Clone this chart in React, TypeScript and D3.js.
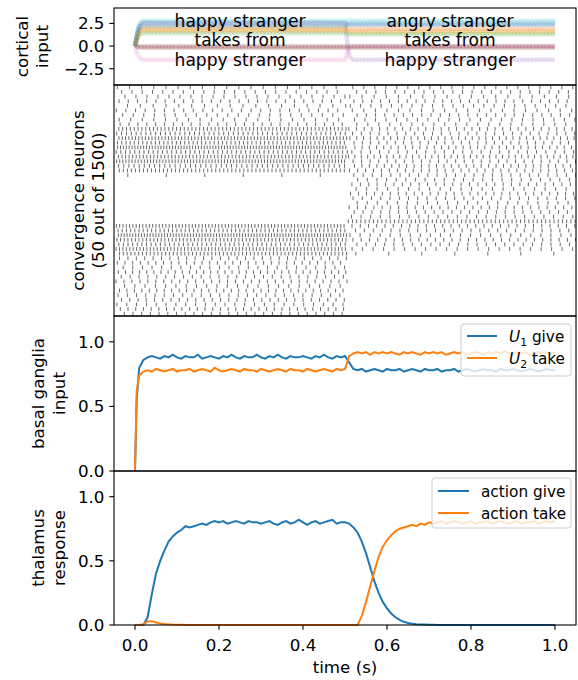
import React from "react";
import * as d3 from "d3";

// ---------- data ----------
const timeTicks = [0, 0.2, 0.4, 0.6, 0.8, 1.0];
const corticalTicks = [-2.5, 0, 2.5];
const unitTicks = [0, 0.5, 1.0];

const tab10 = ["#1f77b4", "#ff7f0e", "#2ca02c", "#d62728", "#9467bd", "#8c564b", "#e377c2", "#7f7f7f", "#bcbd22", "#17becf"];

// cortical input dims: level during first stimulus, level during second stimulus
const cortFirst = [2.5, 2.0, 1.4, -0.1, 2.6, -0.2, -1.5, 0.0, 1.8, 2.8, 2.2, 1.7];
const cortSecond = [2.3, 1.9, 1.3, -0.1, -1.5, -0.2, 0.0, 0.0, 1.5, 2.8, 2.5, 1.7];
const rampTimes = [0, 0.006, 0.012, 0.02];
const rampFrac = [0, 0.6, 0.9, 1];
const switchTime = 0.5;

const stimTop = ["happy stranger", "angry stranger"];
const stimMid = ["takes from", "takes from"];
const stimBottom = ["happy stranger", "happy stranger"];
const stimCenters = [0.25, 0.75];

// convergence neurons: firing rate (Hz) in each half, and spike phase
const rateFirst = [38, 45, 42, 50, 36, 48, 44, 40, 52, 120, 95, 140, 110, 160, 100, 130, 150, 90, 115, 12, 0, 0, 0, 0, 0, 0, 0, 0, 0, 0, 140, 110, 160, 125, 100, 135, 120, 55, 60, 48, 65, 52, 58, 45, 62, 50, 56, 47, 60, 53];
const rateSecond = [42, 48, 38, 52, 45, 40, 50, 44, 42, 60, 52, 68, 56, 64, 50, 72, 54, 62, 58, 50, 48, 55, 44, 58, 50, 46, 56, 52, 48, 110, 56, 52, 46, 56, 50, 44, 14, 0, 0, 0, 0, 0, 0, 0, 0, 0, 0, 0, 0, 0];
const spikePhase = [0.12, 0.57, 0.83, 0.34, 0.91, 0.05, 0.66, 0.29, 0.48, 0.77, 0.18, 0.95, 0.41, 0.62, 0.09, 0.73, 0.26, 0.54, 0.87, 0.31, 0.68, 0.14, 0.45, 0.99, 0.22, 0.59, 0.81, 0.37, 0.03, 0.71, 0.16, 0.52, 0.88, 0.27, 0.64, 0.07, 0.93, 0.44, 0.19, 0.76, 0.35, 0.61, 0.02, 0.85, 0.49, 0.24, 0.69, 0.11, 0.58, 0.96];

// basal ganglia input
const bgTimes = [0, 0.004, ...d3.range(1, 101).map((i) => i / 100)];
const bgGive = [0, 0.55,
  0.80, 0.86, 0.88, 0.89, 0.88, 0.87, 0.89, 0.88, 0.90, 0.88,
  0.87, 0.89, 0.88, 0.88, 0.90, 0.87, 0.88, 0.89, 0.88, 0.87,
  0.89, 0.88, 0.90, 0.88, 0.87, 0.89, 0.88, 0.88, 0.90, 0.88,
  0.87, 0.89, 0.88, 0.90, 0.88, 0.87, 0.89, 0.88, 0.88, 0.89,
  0.88, 0.87, 0.89, 0.88, 0.90, 0.88, 0.87, 0.89, 0.88, 0.89,
  0.84, 0.79, 0.78, 0.79, 0.77, 0.78, 0.79, 0.78, 0.77, 0.79,
  0.78, 0.78, 0.79, 0.77, 0.78, 0.79, 0.78, 0.77, 0.79, 0.78,
  0.78, 0.79, 0.77, 0.78, 0.78, 0.79, 0.77, 0.78, 0.79, 0.78,
  0.77, 0.78, 0.79, 0.78, 0.78, 0.77, 0.79, 0.78, 0.78, 0.79,
  0.78, 0.77, 0.78, 0.79, 0.78, 0.77, 0.78, 0.79, 0.78, 0.78];
const bgTake = [0, 0.62,
  0.74, 0.77, 0.78, 0.77, 0.79, 0.78, 0.77, 0.78, 0.79, 0.77,
  0.78, 0.78, 0.79, 0.77, 0.78, 0.79, 0.78, 0.77, 0.80, 0.78,
  0.77, 0.78, 0.79, 0.78, 0.77, 0.79, 0.78, 0.78, 0.77, 0.79,
  0.78, 0.77, 0.78, 0.79, 0.78, 0.77, 0.79, 0.78, 0.78, 0.77,
  0.79, 0.78, 0.77, 0.78, 0.79, 0.78, 0.77, 0.79, 0.78, 0.79,
  0.89, 0.91, 0.92, 0.91, 0.92, 0.90, 0.92, 0.91, 0.92, 0.91,
  0.92, 0.91, 0.90, 0.92, 0.91, 0.92, 0.91, 0.90, 0.92, 0.91,
  0.92, 0.91, 0.92, 0.90, 0.91, 0.92, 0.91, 0.92, 0.90, 0.91,
  0.92, 0.91, 0.90, 0.92, 0.91, 0.92, 0.91, 0.93, 0.91, 0.90,
  0.92, 0.91, 0.92, 0.90, 0.91, 0.92, 0.91, 0.92, 0.91, 0.92];

// thalamus response
const thTimes = d3.range(0, 101).map((i) => i / 100);
const thGive = [
  0, 0, 0, 0.06, 0.24, 0.40, 0.50, 0.58, 0.65, 0.69,
  0.72, 0.74, 0.77, 0.76, 0.77, 0.78, 0.79, 0.78, 0.80, 0.81,
  0.80, 0.81, 0.79, 0.80, 0.81, 0.80, 0.79, 0.81, 0.80, 0.80,
  0.79, 0.80, 0.81, 0.79, 0.78, 0.80, 0.81, 0.79, 0.80, 0.82,
  0.80, 0.78, 0.80, 0.81, 0.79, 0.80, 0.81, 0.82, 0.79, 0.80,
  0.80, 0.79, 0.76, 0.72, 0.65, 0.56, 0.45, 0.34, 0.25, 0.18,
  0.13, 0.09, 0.06, 0.04, 0.025, 0.015, 0.01, 0.006, 0.004, 0.003,
  0.002, 0.001, 0, 0, 0, 0, 0, 0, 0, 0,
  0, 0, 0, 0, 0, 0, 0, 0, 0, 0,
  0, 0, 0, 0, 0, 0, 0, 0, 0, 0, 0];
const thTake = [
  0, 0, 0.005, 0.028, 0.03, 0.02, 0.012, 0.008, 0.005, 0.003,
  0.002, 0.001, 0, 0, 0, 0, 0, 0, 0, 0,
  0, 0, 0, 0, 0, 0, 0, 0, 0, 0,
  0, 0, 0, 0, 0, 0, 0, 0, 0, 0,
  0, 0, 0, 0, 0, 0, 0, 0, 0, 0,
  0, 0, 0, 0, 0.07, 0.18, 0.30, 0.42, 0.53, 0.61,
  0.66, 0.70, 0.73, 0.75, 0.76, 0.77, 0.78, 0.77, 0.79, 0.78,
  0.80, 0.79, 0.80, 0.81, 0.79, 0.80, 0.81, 0.80, 0.79, 0.80,
  0.81, 0.79, 0.80, 0.80, 0.81, 0.79, 0.80, 0.81, 0.80, 0.79,
  0.80, 0.81, 0.79, 0.80, 0.80, 0.81, 0.79, 0.80, 0.81, 0.80, 0.81];

// ---------- layout ----------
const W = 578, H = 680;
const L = 114, R = 576;
const P1 = [8, 85], P2 = [85, 316], P3 = [316, 471], P4 = [471, 625];
const FONT = "DejaVu Sans, sans-serif";
const FS = 16.7;
const TFS = 17.1;
const LFS = 15.3;
const BLUE = "#1f77b4", ORANGE = "#ff7f0e";

const xS = d3.scaleLinear().domain([-0.05, 1.05]).range([L, R]);
const xRaster = d3.scaleLinear().domain([0, 1]).range([L, R]);
const yCort = d3.scaleLinear().domain([-4.3, 4.2]).range([P1[1], P1[0]]);
const yBG = d3.scaleLinear().domain([0, 1.2]).range([P3[1], P3[0]]);
const yTh = d3.scaleLinear().domain([0, 1.2]).range([P4[1], P4[0]]);
const fmt = d3.format(".1f");

function YTicks({ scale, ticks }: { scale: any; ticks: number[] }) {
  return (
    <g>
      {ticks.map((t) => (
        <g key={t}>
          <line x1={L - 4.7} x2={L} y1={scale(t)} y2={scale(t)} stroke="#000" strokeWidth={1.1} />
          <text x={L - 9.5} y={scale(t)} dy="0.36em" textAnchor="end" fontSize={FS} fontFamily={FONT}>
            {fmt(t)}
          </text>
        </g>
      ))}
    </g>
  );
}

function YLabel({ lines, x, y }: { lines: string[]; x: number[]; y: number }) {
  return (
    <g>
      {lines.map((s, i) => (
        <text key={i} transform={`translate(${x[i]},${y}) rotate(-90)`} textAnchor="middle" dominantBaseline="central" fontSize={FS} fontFamily={FONT}>
          {s}
        </text>
      ))}
    </g>
  );
}

function Frame({ p }: { p: number[] }) {
  return <rect x={L} y={p[0]} width={R - L} height={p[1] - p[0]} fill="none" stroke="#000" strokeWidth={1.1} />;
}

export default function App() {
  // cortical lines
  const cortLines = cortFirst.map((v1, d) => {
    const v2 = cortSecond[d];
    const pts: [number, number][] = [];
    rampTimes.forEach((t, k) => pts.push([t, v1 * rampFrac[k]]));
    rampTimes.forEach((t, k) => pts.push([switchTime + t, v1 + (v2 - v1) * rampFrac[k]]));
    pts.push([1.0, v2]);
    return { color: tab10[d % 10], pts };
  });
  const cortLine = d3.line<[number, number]>().x((p) => xS(p[0])).y((p) => yCort(p[1])).curve(d3.curveMonotoneX);

  // spikes
  const rowH = (P2[1] - P2[0]) / rateFirst.length;
  const spikes: { t: number; i: number }[] = [];
  rateFirst.forEach((r1, i) => {
    const r2 = rateSecond[i];
    const ph = spikePhase[i];
    if (r1 > 0) for (let t = 0.004 + ph / r1; t < 0.505; t += 1 / r1) spikes.push({ t, i });
    if (r2 > 0) for (let t = 0.507 + ((ph + 0.3) % 1) / r2; t < 1.0; t += 1 / r2) spikes.push({ t, i });
  });

  const bgLine = (vals: number[]) =>
    d3.line<number>().x((_, k) => xS(bgTimes[k])).y((v) => yBG(v))(vals) || "";
  const thLine = (vals: number[]) =>
    d3.line<number>().x((_, k) => xS(thTimes[k])).y((v) => yTh(v))(vals) || "";

  return (
    <div style={{ position: "absolute", left: 0, top: 0 }}>
      <svg width={W} height={H} style={{ display: "block", background: "#fff" }}>
        <defs>
          <clipPath id="c1"><rect x={L} y={P1[0]} width={R - L} height={P1[1] - P1[0]} /></clipPath>
        </defs>
        <rect x={0} y={0} width={W} height={H} fill="#fff" />

        {/* panel 1: cortical input */}
        <g clipPath="url(#c1)">
          {cortLines.map((c, k) => (
            <path key={k} d={cortLine(c.pts) || ""} fill="none" stroke={c.color} strokeWidth={4.5} strokeOpacity={0.2} />
          ))}
          {cortLines.map((c, k) => (
            <path key={"b" + k} d={cortLine(c.pts) || ""} fill="none" stroke={c.color} strokeWidth={1.5} strokeOpacity={0.2} strokeDasharray="1.5 2" />
          ))}
        </g>
        {stimCenters.map((c, k) => (
          <g key={k} fontSize={TFS} fontFamily={FONT} textAnchor="middle">
            <text x={xS(c)} y={26.5}>{stimTop[k]}</text>
            <text x={xS(c)} y={46.4}>{stimMid[k]}</text>
            <text x={xS(c)} y={66}>{stimBottom[k]}</text>
          </g>
        ))}
        <YTicks scale={yCort} ticks={corticalTicks} />
        <Frame p={P1} />
        <YLabel lines={["cortical", "input"]} x={[22, 42]} y={(P1[0] + P1[1]) / 2} />

        {/* panel 2: raster */}
        <g>
          {spikes.map((s, k) => (
            <line key={k} x1={xRaster(s.t)} x2={xRaster(s.t)} y1={P2[0] + s.i * rowH + 0.4} y2={P2[0] + (s.i + 1) * rowH - 0.4} stroke="#444" strokeWidth={0.8} />
          ))}
        </g>
        <Frame p={P2} />
        <YLabel lines={["convergence neurons", "(50 out of 1500)"]} x={[78, 98]} y={(P2[0] + P2[1]) / 2} />

        {/* panel 3: basal ganglia */}
        <path d={bgLine(bgGive)} fill="none" stroke={BLUE} strokeWidth={2} />
        <path d={bgLine(bgTake)} fill="none" stroke={ORANGE} strokeWidth={2} />
        <YTicks scale={yBG} ticks={unitTicks} />
        <Frame p={P3} />
        <YLabel lines={["basal ganglia", "input"]} x={[38, 59]} y={(P3[0] + P3[1]) / 2} />
        <g fontFamily={FONT} fontSize={LFS}>
          <rect x={461} y={324} width={110} height={52} rx={3} fill="#fff" fillOpacity={0.8} stroke="#cccccc" strokeWidth={1} />
          <line x1={467} x2={497} y1={336} y2={336} stroke={BLUE} strokeWidth={2} />
          <line x1={467} x2={497} y1={358} y2={358} stroke={ORANGE} strokeWidth={2} />
          <text x={509} y={336} dy="0.36em">
            <tspan fontStyle="italic">U</tspan>
            <tspan fontSize={LFS * 0.7} dy={4}>1</tspan>
            <tspan dy={-4}> give</tspan>
          </text>
          <text x={509} y={358} dy="0.36em">
            <tspan fontStyle="italic">U</tspan>
            <tspan fontSize={LFS * 0.7} dy={4}>2</tspan>
            <tspan dy={-4}> take</tspan>
          </text>
        </g>

        {/* panel 4: thalamus */}
        <path d={thLine(thGive)} fill="none" stroke={BLUE} strokeWidth={2} />
        <path d={thLine(thTake)} fill="none" stroke={ORANGE} strokeWidth={2} />
        <YTicks scale={yTh} ticks={unitTicks} />
        <Frame p={P4} />
        <YLabel lines={["thalamus", "response"]} x={[38, 59]} y={(P4[0] + P4[1]) / 2} />
        <g fontFamily={FONT} fontSize={LFS}>
          <rect x={432} y={478} width={139} height={50} rx={3} fill="#fff" fillOpacity={0.8} stroke="#cccccc" strokeWidth={1} />
          <line x1={438} x2={469} y1={491} y2={491} stroke={BLUE} strokeWidth={2} />
          <line x1={438} x2={469} y1={513} y2={513} stroke={ORANGE} strokeWidth={2} />
          <text x={481} y={491} dy="0.36em">action give</text>
          <text x={481} y={513} dy="0.36em">action take</text>
        </g>

        {/* x axis */}
        {timeTicks.map((t) => (
          <g key={t}>
            <line x1={xS(t)} x2={xS(t)} y1={P4[1]} y2={P4[1] + 4.7} stroke="#000" strokeWidth={1.1} />
            <text x={xS(t)} y={651} textAnchor="middle" fontSize={FS} fontFamily={FONT}>{fmt(t)}</text>
          </g>
        ))}
        <text x={(L + R) / 2} y={673} textAnchor="middle" fontSize={FS} fontFamily={FONT}>time (s)</text>
      </svg>
    </div>
  );
}
